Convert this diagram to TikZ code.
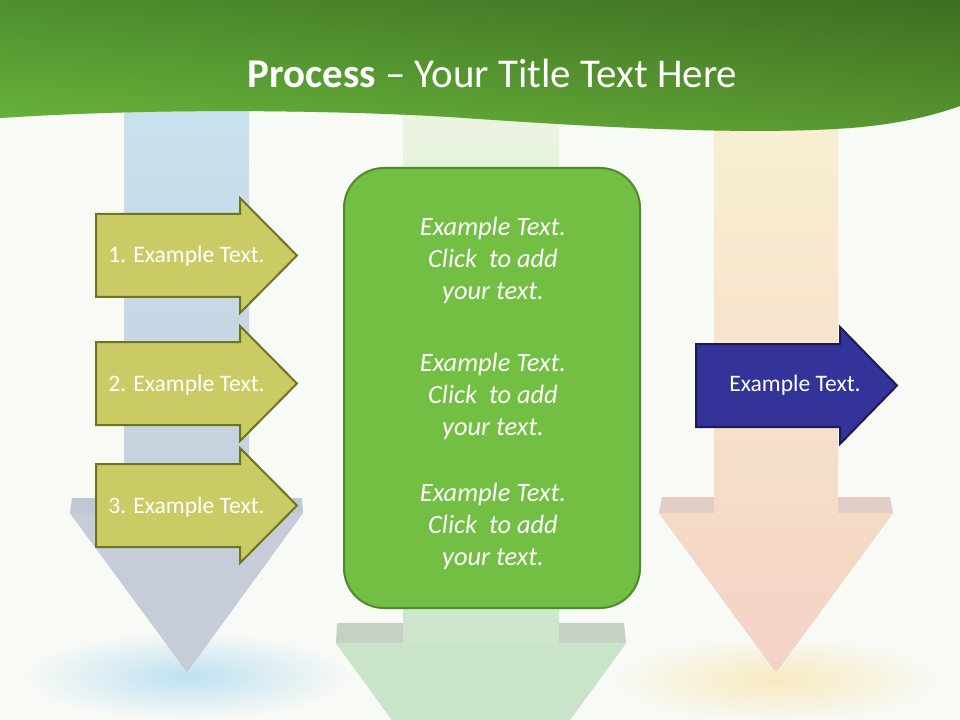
\documentclass[tikz,border=0pt]{standalone}
\usepackage{fontspec}
\setmainfont{Carlito}
\definecolor{bgc}{HTML}{F8FAF6}
\definecolor{hdrTop}{HTML}{4F8F2F}
\definecolor{hdrBot}{HTML}{85E14B}
\definecolor{hdrLeft}{HTML}{4F8F2F}
\definecolor{hdrRight}{HTML}{2F4F15}
\definecolor{blueTop}{HTML}{C9E1EE}
\definecolor{blueBot}{HTML}{C6CFDC}
\definecolor{blueHead}{HTML}{C6CDD9}
\definecolor{blueLedge}{HTML}{C0C8D4}
\definecolor{blueGlow}{HTML}{BFE1F1}
\definecolor{grnTop}{HTML}{EBF4E0}
\definecolor{grnBot}{HTML}{CDE6CB}
\definecolor{grnHead}{HTML}{C9E4C9}
\definecolor{grnLedge}{HTML}{C6D1C6}
\definecolor{orTop}{HTML}{F8F0D3}
\definecolor{orBot}{HTML}{F5DCC7}
\definecolor{orHead}{HTML}{F5DAC5}
\definecolor{orTip}{HTML}{F3D3C8}
\definecolor{orLedge}{HTML}{E2CCC6}
\definecolor{orGlow}{HTML}{F8E9C0}
\definecolor{boxFill}{HTML}{72BF44}
\definecolor{boxLine}{HTML}{4E8B2C}
\definecolor{oliveFill}{HTML}{CBCB66}
\definecolor{oliveLine}{HTML}{6B7622}
\definecolor{navyFill}{HTML}{333399}
\definecolor{navyLine}{HTML}{1C1C52}
\tikzset{
  olivearrow/.style={fill=oliveFill, draw=oliveLine, line width=1.5pt, line join=miter},
  navyarrow/.style={fill=navyFill, draw=navyLine, line width=1.5pt, line join=miter},
  arrowtext/.style={text=white, font=\fontsize{17.7}{21}\selectfont, anchor=base, inner sep=0pt},
  boxtext/.style={text=white, font=\fontsize{19.8}{24}\selectfont\itshape, anchor=base, inner sep=0pt},
  titletext/.style={text=white, font=\fontsize{30.7}{36}\selectfont, anchor=base, inner sep=0pt},
  bigbox/.style={rectangle, fill=boxFill, draw=boxLine, line width=1.5pt, rounded corners=30pt,
    minimum width=222pt, minimum height=330pt, inner sep=0pt},
}
\begin{document}
\begin{tikzpicture}[x=0.75pt,y=0.75pt]
\useasboundingbox (0,0) rectangle (960,-720);
\clip (0,0) rectangle (960,-720);
% background
\fill[bgc] (0,0) rectangle (960,-720);
% glows
\shade[inner color=blueGlow, outer color=bgc] (187,-676) ellipse (165 and 44);
\shade[inner color=orGlow, outer color=bgc] (776,-680) ellipse (165 and 44);
% blue column
\fill[blueLedge] (72,-498) -- (302,-498) -- (303,-513) -- (187,-672) -- (70,-513) -- cycle;
\fill[blueHead] (70,-513) -- (303,-513) -- (187,-672) -- cycle;
\shade[top color=blueTop, bottom color=blueBot] (124,-100) rectangle (249,-513);
% green column
\fill[grnLedge] (337,-623) -- (624,-623) -- (626,-643) -- (481,-842) -- (336,-643) -- cycle;
\fill[grnHead] (336,-643) -- (626,-643) -- (481,-842) -- cycle;
\shade[top color=grnTop, bottom color=grnBot] (403,-100) rectangle (559,-643);
% orange column
\fill[orLedge] (662,-497) -- (890,-497) -- (893,-513) -- (776,-672) -- (659,-513) -- cycle;
\shade[top color=orHead, bottom color=orTip] (659,-513) -- (893,-513) -- (776,-672) -- cycle;
\shade[top color=orTop, bottom color=orBot] (714,-100) rectangle (838,-513);
% header
\def\hdrpath{(0,0) -- (960,0) -- (960,-106)
  .. controls (935,-115) and (900,-124) .. (850,-128)
  .. controls (740,-136) and (580,-126) .. (450,-117)
  .. controls (330,-110) and (150,-108) .. (0,-118) -- cycle}
\shade[top color=hdrTop, bottom color=hdrBot] \hdrpath;
\shade[left color=hdrLeft, right color=hdrRight, opacity=0.5] \hdrpath;
\node[titletext] (title) at (492.5,-88) {\textbf{Process} – Your Title Text Here};
% central box
\node[bigbox] (box) at (492,-388) {};
\node[boxtext] (b1a) at (493,-236) {Example Text.};
\node[boxtext] (b1b) at (493,-268) {Click\ \ to add};
\node[boxtext] (b1c) at (493,-300) {your text.};
\node[boxtext] (b2a) at (493,-371) {Example Text.};
\node[boxtext] (b2b) at (493,-403) {Click\ \ to add};
\node[boxtext] (b2c) at (493,-435) {your text.};
\node[boxtext] (b3a) at (493,-501) {Example Text.};
\node[boxtext] (b3b) at (493,-533) {Click\ \ to add};
\node[boxtext] (b3c) at (493,-565) {your text.};
% olive arrows
\draw[olivearrow] (96,-214) -- (240,-214) -- (240,-198) -- (297,-255.5) -- (240,-313) -- (240,-297) -- (96,-297) -- cycle;
\draw[olivearrow] (96,-342) -- (240,-342) -- (240,-326) -- (297,-383.5) -- (240,-441) -- (240,-425) -- (96,-425) -- cycle;
\draw[olivearrow] (96,-464) -- (240,-464) -- (240,-448) -- (297,-505.5) -- (240,-563) -- (240,-547) -- (96,-547) -- cycle;
\node[arrowtext] (a1) at (186.5,-263) {1. Example Text.};
\node[arrowtext] (a2) at (186.5,-391) {2. Example Text.};
\node[arrowtext] (a3) at (186.5,-513) {3. Example Text.};
% navy arrow
\draw[navyarrow] (696,-344) -- (840,-344) -- (840,-327) -- (897,-385.5) -- (840,-444) -- (840,-427) -- (696,-427) -- cycle;
\node[arrowtext] (a4) at (795,-391) {Example Text.};
\end{tikzpicture}
\end{document}
